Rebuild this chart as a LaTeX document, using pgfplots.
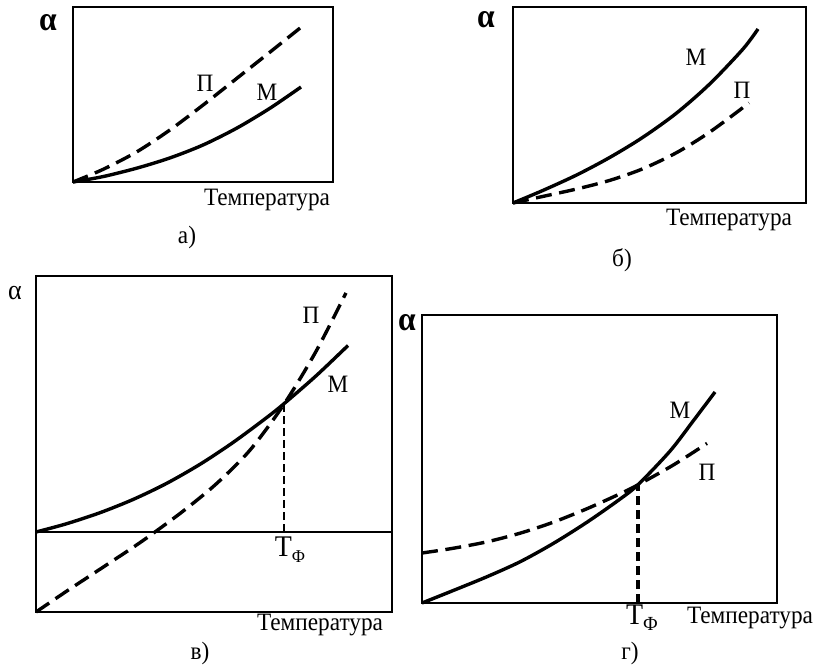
\documentclass[border=0pt]{standalone}
\usepackage{pgfplots}
\pgfplotsset{compat=1.18}
\usepackage{fontspec}
\setmainfont{Liberation Serif}[FakeStretch=0.93]
\begin{document}
\begin{tikzpicture}
\useasboundingbox (0pt,0pt) rectangle (409pt,335.5pt);
\pgfplotsset{
  panel/.style={scale only axis, xmin=0, ymin=0, xtick=\empty, ytick=\empty,
    axis line style={line width=0.6pt}, clip=false, anchor=south west},
  mline/.style={black, line width=1.7pt, smooth, no markers},
  pline/.style={black, line width=1.7pt, smooth, no markers, dash pattern=on 8pt off 3.8pt},
}
\tikzset{lab/.style={font=\fontsize{12.5}{14}\selectfont, inner sep=0pt},
  tf/.style={font=\fontsize{15}{15}\selectfont, inner sep=0pt},
  alab/.style={font=\fontsize{17}{17}\selectfont\bfseries, inner sep=0pt}}

% panel a
\begin{axis}[panel, at={(36.5pt,244.5pt)}, width=130pt, height=87.5pt, xmax=260, ymax=175]
\addplot[mline] coordinates {(0,0) (30,5.4) (64,13.9) (97,24.1) (130,37) (164,54) (197,73.8) (228,95)};
\addplot[pline] coordinates {(0,0) (30,12.6) (64,30.3) (97,52.1) (130,76.9) (164,103.8) (197,129.9) (228,154.7)};
\node[alab] at (axis cs:-25,159) {α};
\node[lab] at (axis cs:132,99) {П};
\node[lab] at (axis cs:194,90) {М};
\node[lab] at (axis cs:194,-18) {Температура};
\node[lab] at (axis cs:114,-55) {а)};
\end{axis}

% panel b
\begin{axis}[panel, at={(256.5pt,234pt)}, width=146.5pt, height=98pt, xmax=293, ymax=196]
\addplot[mline] coordinates {(0,0) (30,12.6) (64,28.2) (97,45.7) (130,65.8) (164,90.3) (197,119.3) (230,154) (245,174)};
\addplot[pline] coordinates {(0,0) (30,6.6) (64,14.1) (97,22.7) (130,34.3) (164,50.6) (197,71.1) (236,100)};
\node[alab] at (axis cs:-27,183) {α};
\node[lab] at (axis cs:183,146) {М};
\node[lab] at (axis cs:229,113) {П};
\node[lab] at (axis cs:216,-17) {Температура};
\node[lab] at (axis cs:109,-57) {б)};
\end{axis}

% panel v
\begin{axis}[panel, at={(18pt,29.5pt)}, width=178pt, height=168pt, xmax=356, ymax=336]
\draw[line width=0.6pt] (axis cs:0,80) -- (axis cs:356,80);
\addplot[mline] coordinates {(0,80) (30,88.1) (64,99.3) (97,112.5) (130,128.3) (164,147.7) (197,169.5) (230,193.9) (248,208.3) (280,236.1) (312,266.5)};
\addplot[pline] coordinates {(0,0) (30,20.4) (64,42.8) (97,64.6) (117,78.6) (147,100.8) (180,127.9) (214,161.9) (248,207.8) (280,260.6) (310,319.1)};
\addplot[black, line width=1.1pt, dash pattern=on 4pt off 2pt] coordinates {(248,80) (248,208)};
\node[font=\fontsize{14}{14}\selectfont, inner sep=0pt] at (axis cs:-21,319) {α};
\node[lab] at (axis cs:275,297) {П};
\node[lab] at (axis cs:302,228) {М};
\node[tf] at (axis cs:254,62) {Т\raisebox{-0.45ex}{\fontsize{9}{9}\selectfont Ф}};
\node[lab] at (axis cs:284,-13) {Температура};
\node[lab] at (axis cs:164,-41) {в)};
\end{axis}

% panel g
\begin{axis}[panel, at={(211pt,34pt)}, width=177.5pt, height=144pt, xmax=355, ymax=288]
\addplot[mline] coordinates {(0,0) (31,12.4) (65,26.3) (98,41.2) (131,59.4) (165,80.8) (198,103.9) (216,118.3) (248,151.9) (271,181.8) (293,211)};
\addplot[pline] coordinates {(0,50) (31,54.7) (65,61.2) (98,69.8) (131,80.7) (165,94.3) (198,109.2) (216,118.2) (251,137.8) (285,159.6)};
\addplot[black, line width=1.8pt, dash pattern=on 4.5pt off 2.5pt] coordinates {(216,0) (216,118)};
\node[alab] at (axis cs:-15,280) {α};
\node[lab] at (axis cs:258,193) {М};
\node[lab] at (axis cs:285,131) {П};
\node[tf] at (axis cs:220,-15) {Т\raisebox{-0.45ex}{\fontsize{10}{10}\selectfont Ф}};
\node[lab] at (axis cs:328,-15) {Температура};
\node[lab] at (axis cs:208,-50) {г)};
\end{axis}
\end{tikzpicture}
\end{document}
